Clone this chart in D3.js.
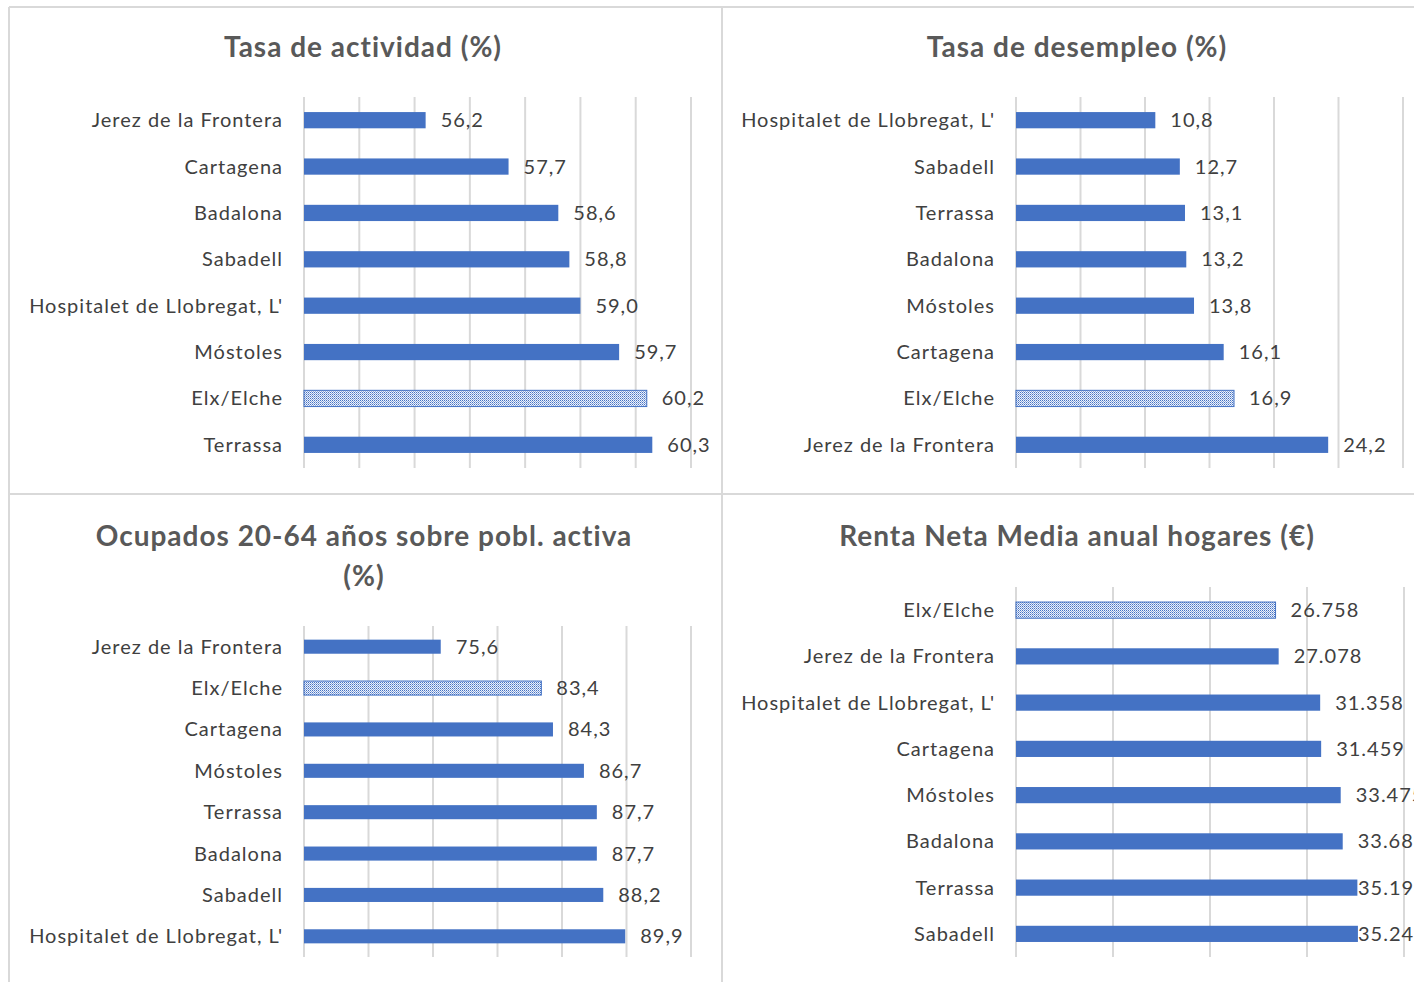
<!DOCTYPE html>
<html>
<head>
<meta charset="utf-8">
<script src="https://cdn.jsdelivr.net/npm/d3@7"></script>
<style>
  body { margin: 0; background: #fff; }
  svg { display: block; font-family: Lato, "Open Sans", sans-serif; }
</style>
</head>
<body>
<svg id="chart" width="1414" height="982"></svg>
<script>
// --- data ---
var actividadCats = ["Jerez de la Frontera", "Cartagena", "Badalona", "Sabadell",
                     "Hospitalet de Llobregat, L'", "Móstoles", "Elx/Elche", "Terrassa"];
var actividadVals = [56.2, 57.7, 58.6, 58.8, 59.0, 59.7, 60.2, 60.3];
var actividadTicks = [54, 55, 56, 57, 58, 59, 60, 61];

var desempleoCats = ["Hospitalet de Llobregat, L'", "Sabadell", "Terrassa", "Badalona",
                     "Móstoles", "Cartagena", "Elx/Elche", "Jerez de la Frontera"];
var desempleoVals = [10.8, 12.7, 13.1, 13.2, 13.8, 16.1, 16.9, 24.2];
var desempleoTicks = [0, 5, 10, 15, 20, 25, 30];

var ocupadosCats = ["Jerez de la Frontera", "Elx/Elche", "Cartagena", "Móstoles",
                    "Terrassa", "Badalona", "Sabadell", "Hospitalet de Llobregat, L'"];
var ocupadosVals = [75.6, 83.4, 84.3, 86.7, 87.7, 87.7, 88.2, 89.9];
var ocupadosTicks = [65, 70, 75, 80, 85, 90, 95];

var rentaCats = ["Elx/Elche", "Jerez de la Frontera", "Hospitalet de Llobregat, L'", "Cartagena",
                 "Móstoles", "Badalona", "Terrassa", "Sabadell"];
var rentaVals = [26758, 27078, 31358, 31459, 33475, 33682, 35193, 35249];
var rentaTicks = [0, 10000, 20000, 30000, 40000];

var highlight = "Elx/Elche";

// --- style ---
var barColor = "#4472C4";
var gridColor = "#d9d9d9";
var textColor = "#404040";
var titleColor = "#595959";

var es = d3.formatLocale({ decimal: ",", thousands: ".", grouping: [3], currency: ["", " €"] });

var svg = d3.select("#chart");

var defs = svg.append("defs");
var pat = defs.append("pattern")
  .attr("id", "checker")
  .attr("patternUnits", "userSpaceOnUse")
  .attr("width", 2).attr("height", 2);
pat.append("rect").attr("width", 2).attr("height", 2).attr("fill", "#eef2fa");
pat.append("rect").attr("width", 1).attr("height", 1).attr("fill", barColor);
pat.append("rect").attr("x", 1).attr("y", 1).attr("width", 1).attr("height", 1).attr("fill", "#8ea9dc");

// panel frames
var frame = svg.append("g").attr("stroke", gridColor).attr("stroke-width", 2).attr("fill", "none");
frame.append("line").attr("x1", 9).attr("x2", 1414).attr("y1", 7).attr("y2", 7);
frame.append("line").attr("x1", 9).attr("x2", 9).attr("y1", 7).attr("y2", 982);
frame.append("line").attr("x1", 9).attr("x2", 1414).attr("y1", 494).attr("y2", 494);
frame.append("line").attr("x1", 722).attr("x2", 722).attr("y1", 7).attr("y2", 982);

function drawPanel(p) {
  var g = svg.append("g");

  var x = d3.scaleLinear()
    .domain([p.ticks[0], p.ticks[p.ticks.length - 1]])
    .range([p.left, p.right]);

  var y = d3.scaleBand()
    .domain(p.cats)
    .range([p.top, p.bottom])
    .paddingInner(p.pad)
    .paddingOuter(p.pad / 2);

  // gridlines
  g.append("g")
    .selectAll("line")
    .data(p.ticks)
    .enter().append("line")
      .attr("x1", function(d) { return x(d); })
      .attr("x2", function(d) { return x(d); })
      .attr("y1", p.top)
      .attr("y2", p.bottom)
      .attr("stroke", gridColor)
      .attr("stroke-width", 2);

  // category labels
  g.selectAll(".cat")
    .data(p.cats)
    .enter().append("text")
      .attr("class", "cat")
      .attr("x", p.left - 21)
      .attr("y", function(d) { return y(d) + y.bandwidth() / 2; })
      .attr("dy", "0.35em")
      .attr("text-anchor", "end")
      .attr("fill", textColor)
      .style("font-size", "20px")
      .style("letter-spacing", "1px")
      .text(function(d) { return d; });

  var rows = p.cats.map(function(c, i) { return { cat: c, val: p.vals[i] }; });

  g.selectAll(".bar")
    .data(rows)
    .enter().append("rect")
      .attr("class", "bar")
      .attr("x", x(p.ticks[0]))
      .attr("y", function(d) { return y(d.cat); })
      .attr("width", function(d) { return x(d.val) - x(p.ticks[0]); })
      .attr("height", y.bandwidth())
      .attr("fill", function(d) { return d.cat === highlight ? "url(#checker)" : barColor; })
      .attr("stroke", function(d) { return d.cat === highlight ? barColor : "none"; })
      .attr("stroke-width", 1);

  g.selectAll(".val")
    .data(rows)
    .enter().append("text")
      .attr("class", "val")
      .attr("x", function(d) { return Math.min(x(d.val) + 15, p.labelMax); })
      .attr("y", function(d) { return y(d.cat) + y.bandwidth() / 2; })
      .attr("dy", "0.35em")
      .attr("fill", textColor)
      .style("font-size", "20px")
      .style("letter-spacing", "1px")
      .text(function(d) { return es.format(p.fmt)(d.val); });

  p.title.forEach(function(t, i) {
    g.append("text")
      .attr("x", p.titleX)
      .attr("y", p.titleY + i * 40)
      .attr("text-anchor", "middle")
      .attr("fill", titleColor)
      .style("font-size", "28px")
      .style("font-weight", 700)
      .style("letter-spacing", "1px")
      .text(t);
  });
}

drawPanel({ cats: actividadCats, vals: actividadVals, ticks: actividadTicks, fmt: ".1f",
  left: 304, right: 691, top: 97, bottom: 468, pad: 0.65, labelMax: 9999,
  title: ["Tasa de actividad (%)"], titleX: 363, titleY: 57 });

drawPanel({ cats: desempleoCats, vals: desempleoVals, ticks: desempleoTicks, fmt: ".1f",
  left: 1016, right: 1403, top: 97, bottom: 468, pad: 0.65, labelMax: 9999,
  title: ["Tasa de desempleo (%)"], titleX: 1077, titleY: 57 });

drawPanel({ cats: ocupadosCats, vals: ocupadosVals, ticks: ocupadosTicks, fmt: ".1f",
  left: 304, right: 691, top: 626, bottom: 957, pad: 0.66, labelMax: 9999,
  title: ["Ocupados 20-64 años sobre pobl. activa", "(%)"], titleX: 364, titleY: 546 });

drawPanel({ cats: rentaCats, vals: rentaVals, ticks: rentaTicks, fmt: ",.0f",
  left: 1016, right: 1404, top: 587, bottom: 957, pad: 0.65, labelMax: 1358,
  title: ["Renta Neta Media anual hogares (€)"], titleX: 1077, titleY: 546 });
</script>
</body>
</html>
